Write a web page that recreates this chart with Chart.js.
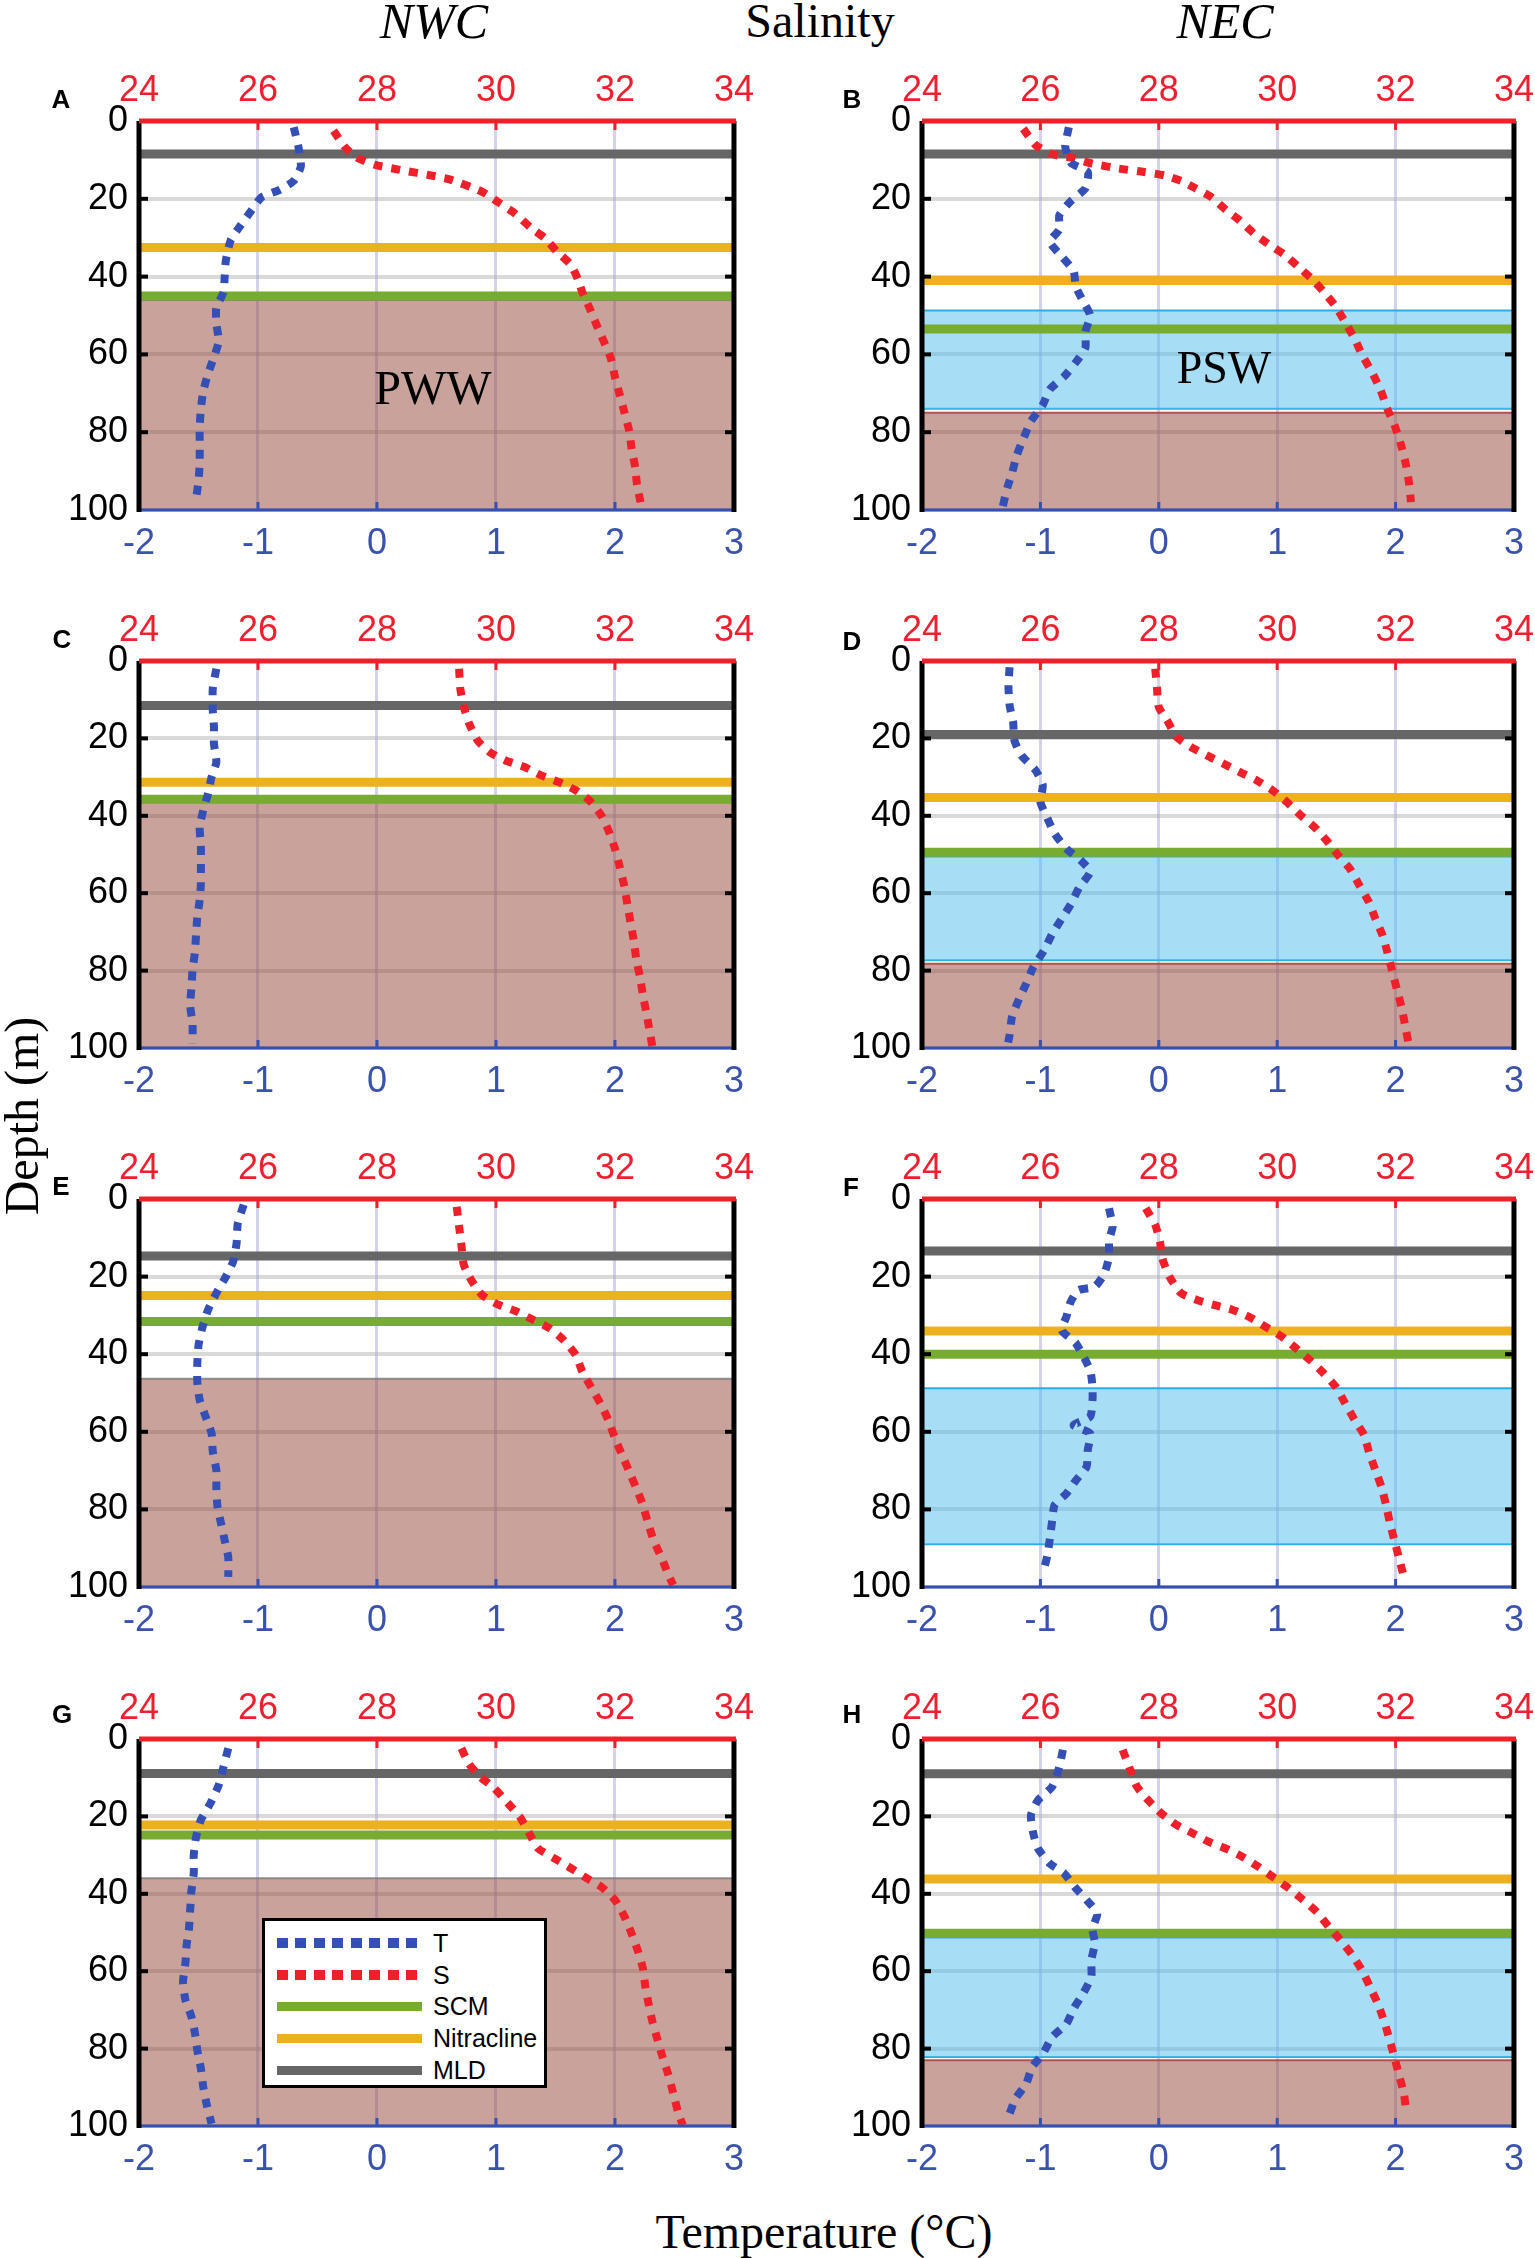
<!DOCTYPE html>
<html>
<head>
<meta charset="utf-8">
<script src="https://cdn.jsdelivr.net/npm/chart.js@4.4.1/dist/chart.umd.min.js"></script>
<style>
  html, body { margin:0; padding:0; background:#fff; }
  body { width:1535px; height:2258px; position:relative; overflow:hidden; }
  canvas { position:absolute; }
  .t { position:absolute; transform:translate(-50%,-50%); white-space:nowrap; line-height:1; color:#000; }
  .serif { font-family:"Liberation Serif","DejaVu Serif",serif; }
  .letter { font-family:"Liberation Sans",Arial,sans-serif; font-weight:bold; font-size:26px; }
  #legend { position:absolute; left:262px; top:1918px; width:279px; height:164px; border:3px solid #000; background:#fff; }
  .lg-row { position:absolute; left:0; width:100%; height:0; }
  .lg-sample { position:absolute; left:12px; width:145px; }
  .lg-text { position:absolute; left:168px; transform:translateY(-50%); font-family:"Liberation Sans",Arial,sans-serif; font-size:25px; line-height:1; }
</style>
</head>
<body>

<script>
// ---------------- DATA ----------------
const DEPTH_TICKS = [0, 20, 40, 60, 80, 100];
const TEMP_TICKS = [-2, -1, 0, 1, 2, 3];
const SAL_TICKS = [24, 26, 28, 30, 32, 34];
const PANEL_LETTERS = ['A','B','C','D','E','F','G','H'];

// MLD, nitracline, SCM depths per panel A..H (m)
const MLD = [8.5, 8.5, 11.5, 19, 14.7, 13.4, 8.9, 9];
const NITRACLINE = [32.5, 41, 31.3, 35.3, 24.9, 34, 22.2, 36.2];
const SCM = [45, 53.5, 35.7, 49.4, 31.6, 40, 24.8, 50.2];
// Water-mass layers (top, bottom) per panel; null = absent
const PWW_TOP = [46, 75, 36.5, 78.2, 46.3, null, 36, 83];
const PWW_BOTTOM = [100, 100, 100, 100, 100, null, 100, 100];
const PSW_TOP = [null, 48.7, null, 50.5, null, 48.8, null, 51.3];
const PSW_BOTTOM = [null, 74, null, 77.3, null, 89, null, 82.2];

// Temperature profiles
const A_T_DEPTH = [1.6,6.7,11.7,15.4,17.7,19.6,22.8,27,30.7,35.8,40,44,48,52,56.6,60.7,65,69.5,74,78.7,83.4,88,92.6,97];
const A_T = [-0.70,-0.66,-0.64,-0.70,-0.82,-0.97,-1.05,-1.15,-1.23,-1.27,-1.28,-1.29,-1.35,-1.35,-1.33,-1.37,-1.42,-1.46,-1.48,-1.49,-1.49,-1.49,-1.50,-1.52];
const B_T_DEPTH = [1.6,6.6,10.8,13.1,17.3,20.5,24.2,27.9,31,34.8,38.5,42.6,46.3,50,54.2,58.3,62,65.7,69,73,77.2,81.4,86,90.6,94.3,99.4];
const B_T = [-0.76,-0.79,-0.74,-0.60,-0.62,-0.74,-0.84,-0.84,-0.92,-0.82,-0.72,-0.70,-0.64,-0.58,-0.62,-0.62,-0.70,-0.80,-0.92,-0.98,-1.08,-1.14,-1.20,-1.24,-1.28,-1.32];
const C_T_DEPTH = [2,7.1,12.7,17,21.4,26.1,30,34.3,38.6,42.9,47.6,52.4,57.5,61.8,66.1,70.5,75.2,79.9,84.7,89,93.7,98.9];
const C_T = [-1.35,-1.38,-1.38,-1.37,-1.37,-1.35,-1.39,-1.42,-1.46,-1.49,-1.48,-1.48,-1.48,-1.49,-1.51,-1.52,-1.53,-1.55,-1.56,-1.57,-1.55,-1.55];
const D_T_DEPTH = [1.6,6.3,11.5,15.8,20.5,24.4,28.3,32.1,36.4,40.7,44.6,48.5,51.5,54.5,58.4,62.7,66.6,70.5,74.8,79.1,83.4,87.3,92,96.7,99.7];
const D_T = [-1.26,-1.27,-1.26,-1.23,-1.22,-1.16,-1.04,-0.98,-1.0,-0.94,-0.88,-0.78,-0.66,-0.58,-0.67,-0.74,-0.82,-0.90,-0.97,-1.06,-1.12,-1.18,-1.24,-1.26,-1.28];
const E_T_DEPTH = [1.5,6.3,11.4,16.2,20,24.3,28.6,33.4,37.7,42.4,47.1,51.8,56.1,60.4,65.1,69.9,74.6,79.4,83.7,88,92.3,97.4];
const E_T = [-1.12,-1.17,-1.18,-1.21,-1.27,-1.35,-1.42,-1.47,-1.50,-1.51,-1.51,-1.49,-1.44,-1.39,-1.38,-1.35,-1.35,-1.34,-1.31,-1.28,-1.25,-1.25];
const F_T_DEPTH = [2.4,7.1,10.6,14.9,19.2,22.6,23.5,26.9,30.3,33.8,37.2,44.1,48.4,51.8,56.1,58.3,60.4,64.7,69,72.5,75.9,78.9,82.8,87.5,91.8,96.6];
const F_T = [-0.42,-0.39,-0.42,-0.42,-0.46,-0.54,-0.68,-0.75,-0.78,-0.82,-0.70,-0.58,-0.56,-0.56,-0.58,-0.72,-0.58,-0.60,-0.61,-0.70,-0.78,-0.88,-0.90,-0.92,-0.94,-0.98];
const G_T_DEPTH = [2.4,7.2,11.9,16.6,20.9,25.3,30,34.7,39.4,44.2,48.9,53.3,57.9,62.7,67.4,71.7,76,80.4,85.1,89.9,94.6,99.4];
const G_T = [-1.25,-1.29,-1.33,-1.40,-1.48,-1.52,-1.54,-1.54,-1.56,-1.57,-1.58,-1.60,-1.61,-1.63,-1.61,-1.56,-1.53,-1.51,-1.48,-1.46,-1.43,-1.39];
const H_T_DEPTH = [2.8,7.2,12.3,15.8,19.7,24.4,28.3,32.2,34.7,38.6,41.6,45.1,49,52.8,57.2,61.5,65.8,69.7,73.6,77,81.4,84.8,89.1,92.9,96.8];
const H_T = [-0.81,-0.84,-0.90,-1.02,-1.08,-1.06,-1.02,-0.92,-0.80,-0.70,-0.61,-0.52,-0.56,-0.54,-0.57,-0.57,-0.64,-0.72,-0.78,-0.90,-0.98,-1.07,-1.12,-1.21,-1.26];

// Salinity profiles
const A_S_DEPTH = [2.5,6.7,9.4,11.3,12.7,14,15,18.2,21,23.8,27.5,30.2,33.5,37,40.8,44,48,52.4,56.6,61,65.8,70.4,75,79.7,84.3,89,93.5,98];
const A_S = [27.27,27.46,27.66,27.97,28.44,28.91,29.22,29.77,30.05,30.32,30.59,30.83,31.02,31.26,31.38,31.45,31.57,31.69,31.81,31.93,32.0,32.08,32.16,32.24,32.28,32.34,32.37,32.43];
const B_S_DEPTH = [2,6.2,8.5,9.4,10.8,12.2,13.1,14,15.4,17.3,19.6,22.8,25.6,28.8,31.5,34.3,37.5,40.8,44,47.7,51.8,56,60,64.3,68.9,74,78.1,83.7,88.7,93.4,98];
const B_S = [25.71,25.92,26.2,26.52,26.83,27.31,27.75,28.1,28.38,28.62,28.89,29.13,29.37,29.6,29.84,30.12,30.36,30.6,30.79,30.99,31.15,31.31,31.43,31.59,31.74,31.86,31.98,32.1,32.18,32.23,32.26];
const C_S_DEPTH = [2,7.1,11.9,16.2,20.5,23.5,25.7,27.4,29.5,31.3,33.4,36,39.9,43.8,48.5,53.2,58.4,63.1,67.4,72.6,77.3,81.6,86.4,91.1,96.3,99.7];
const C_S = [29.38,29.40,29.46,29.55,29.69,29.89,30.16,30.48,30.75,31.06,31.34,31.57,31.77,31.89,32.0,32.08,32.16,32.21,32.26,32.32,32.36,32.42,32.47,32.53,32.59,32.63];
const D_S_DEPTH = [2,7.1,11.9,15.3,19.6,22.2,24.4,26.5,28.7,30.8,33.4,36.4,39.9,42.9,46.3,50.2,53.7,58,62.3,66.6,70.9,75.2,79.9,84.7,89.4,94.1,98.9];
const D_S = [27.94,27.97,28.0,28.14,28.3,28.54,28.81,29.09,29.37,29.65,29.92,30.16,30.40,30.63,30.83,31.03,31.23,31.39,31.55,31.66,31.78,31.86,31.94,32.02,32.10,32.16,32.22];
const E_S_DEPTH = [2,7.1,11.9,17,21.3,24.8,27.3,29.1,31.2,33.4,36.4,40.2,44.5,48.8,53.1,57.4,61.7,66,70.3,74.6,78.5,83.2,88,92.7,97,99.5];
const E_S = [29.34,29.38,29.42,29.46,29.60,29.77,30.05,30.36,30.63,30.91,31.14,31.34,31.45,31.61,31.77,31.90,32.0,32.12,32.24,32.36,32.46,32.55,32.65,32.79,32.90,32.98];
const F_S_DEPTH = [2.4,6.7,11,15.3,20,24.3,26.1,27.3,28.6,30.4,32.9,35.5,38.5,41.6,45,48.4,52.7,57,60.9,65.2,69.9,74.2,78.9,83.2,88,92.7,97.4];
const F_S = [27.78,27.94,28.02,28.06,28.18,28.38,28.66,28.93,29.25,29.53,29.80,30.08,30.32,30.56,30.79,30.99,31.15,31.31,31.47,31.55,31.66,31.76,31.84,31.90,31.98,32.06,32.14];
const G_S_DEPTH = [2.4,6.3,9.7,12.7,16.6,20.1,24.4,28.3,30.9,33.4,36,38.2,41.6,45.9,50.3,55,59.3,64,68.8,73.1,77.4,81.7,86.9,91.6,96.4,99.8];
const G_S = [29.42,29.54,29.73,29.97,30.20,30.40,30.56,30.71,30.99,31.26,31.53,31.77,32.0,32.16,32.28,32.39,32.47,32.51,32.57,32.63,32.71,32.79,32.90,32.98,33.06,33.14];
const H_S_DEPTH = [2.8,7.6,12.3,15.8,19.2,22.2,24.4,26.6,28.3,30.4,33,36,38.6,41.6,44.7,48.5,52,55.9,59.7,64.1,68.4,73.1,77.8,82.2,86.9,91.6,96.4];
const H_S = [27.39,27.51,27.63,27.82,28.04,28.30,28.58,28.85,29.13,29.41,29.68,29.96,30.20,30.44,30.67,30.87,31.07,31.27,31.43,31.57,31.70,31.81,31.90,31.98,32.06,32.14,32.18];

const T_PROFILES = [[A_T,A_T_DEPTH],[B_T,B_T_DEPTH],[C_T,C_T_DEPTH],[D_T,D_T_DEPTH],[E_T,E_T_DEPTH],[F_T,F_T_DEPTH],[G_T,G_T_DEPTH],[H_T,H_T_DEPTH]];
const S_PROFILES = [[A_S,A_S_DEPTH],[B_S,B_S_DEPTH],[C_S,C_S_DEPTH],[D_S,D_S_DEPTH],[E_S,E_S_DEPTH],[F_S,F_S_DEPTH],[G_S,G_S_DEPTH],[H_S,H_S_DEPTH]];

// ---------------- STYLE / LAYOUT ----------------
const COL_L = [139, 922], COL_R = [734, 1514];
const ROW_T = [121, 661, 1199, 1739], ROW_B = [510, 1048, 1587, 2126];
const PAD_L = 100, PAD_T = 62, PAD_R = 28, PAD_B = 58;
const SANS = '"Liberation Sans", Arial, sans-serif';
const C_T_LINE = '#3450B6', C_S_LINE = '#F0202B';
const C_T_TXT = '#3A52AE', C_S_TXT = '#EE2030';
const C_MLD = '#666666', C_NIT = '#EDB120', C_SCM = '#77AC30';

const framePlugin = {
  id: 'frame',
  afterDraw(chart) {
    const {ctx, chartArea: a, scales} = chart;
    const seg = (x1,y1,x2,y2) => { ctx.beginPath(); ctx.moveTo(x1,y1); ctx.lineTo(x2,y2); ctx.stroke(); };
    ctx.save();
    ctx.lineCap = 'butt';
    ctx.lineWidth = 4;
    ctx.strokeStyle = '#000';
    DEPTH_TICKS.slice(1,-1).forEach(v => {
      const py = scales.y.getPixelForValue(v);
      seg(a.left, py, a.left + 9, py); seg(a.right - 9, py, a.right, py);
    });
    ctx.lineWidth = 3;
    ctx.strokeStyle = C_S_LINE;
    SAL_TICKS.slice(1,-1).forEach(v => { const px = scales.x2.getPixelForValue(v); seg(px, a.top, px, a.top + 9); });
    ctx.strokeStyle = C_T_LINE;
    TEMP_TICKS.slice(1,-1).forEach(v => { const px = scales.x.getPixelForValue(v); seg(px, a.bottom, px, a.bottom - 8); });
    // frame
    ctx.lineWidth = 3; ctx.strokeStyle = C_T_LINE; seg(a.left, a.bottom, a.right, a.bottom);
    ctx.lineWidth = 5; ctx.strokeStyle = '#000';
    seg(a.left, a.top, a.left, a.bottom + 2); seg(a.right, a.top, a.right, a.bottom + 2);
    ctx.strokeStyle = C_S_LINE; seg(a.left, a.top, a.right + 2, a.top);
    ctx.restore();
  }
};

function hLine(depth, color) {
  return { data: [{x: TEMP_TICKS[0], y: depth}, {x: TEMP_TICKS[TEMP_TICKS.length-1], y: depth}],
           xAxisID: 'x', borderColor: color, borderWidth: 9, pointRadius: 0, fill: false, tension: 0 };
}
function band(top, bottom, fillColor, edgeColor) {
  const t = hLine(top, edgeColor); t.borderWidth = 2; t.fill = '+1'; t.backgroundColor = fillColor;
  const b = hLine(bottom, edgeColor); b.borderWidth = 2;
  return [t, b];
}

function makePanel(i) {
  const col = i % 2, row = Math.floor(i / 2);
  const L = COL_L[col], R = COL_R[col], T = ROW_T[row], B = ROW_B[row];
  const cv = document.createElement('canvas');
  const W = (R - L) + PAD_L + PAD_R, H = (B - T) + PAD_T + PAD_B;
  cv.width = W; cv.height = H;
  cv.style.left = (L - PAD_L) + 'px'; cv.style.top = (T - PAD_T) + 'px';
  cv.style.width = W + 'px'; cv.style.height = H + 'px';
  document.body.appendChild(cv);

  const [tv, td] = T_PROFILES[i];
  const [sv, sd] = S_PROFILES[i];
  const datasets = [
    { data: tv.map((v,k) => ({x: v, y: td[k]})), xAxisID: 'x', borderColor: C_T_LINE, borderWidth: 8,
      borderDash: [9, 9], pointRadius: 0, fill: false, tension: 0.2 },
    { data: sv.map((v,k) => ({x: v, y: sd[k]})), xAxisID: 'x2', borderColor: C_S_LINE, borderWidth: 8,
      borderDash: [9, 9], pointRadius: 0, fill: false, tension: 0.2 },
    hLine(MLD[i], C_MLD),
    hLine(NITRACLINE[i], C_NIT),
    hLine(SCM[i], C_SCM)
  ];
  if (PSW_TOP[i] !== null) datasets.push(...band(PSW_TOP[i], PSW_BOTTOM[i], 'rgba(81,189,235,0.5)', 'rgba(40,175,230,1)'));
  if (PWW_TOP[i] !== null) datasets.push(...band(PWW_TOP[i], PWW_BOTTOM[i], 'rgba(147,71,55,0.5)',
      col === 0 ? 'rgba(120,120,120,0.8)' : 'rgba(165,75,55,0.9)'));

  const tickFont = { family: SANS, size: 36 };
  new Chart(cv, {
    type: 'line',
    data: { datasets },
    plugins: [framePlugin],
    options: {
      responsive: false, animation: false, devicePixelRatio: 1,
      layout: { padding: { left: 0, right: PAD_R, top: 0, bottom: 0 } },
      plugins: { legend: { display: false }, tooltip: { enabled: false } },
      scales: {
        x: { type: 'linear', position: 'bottom', min: TEMP_TICKS[0], max: TEMP_TICKS[TEMP_TICKS.length-1],
             afterBuildTicks: s => { s.ticks = TEMP_TICKS.map(v => ({value: v})); },
             afterFit: s => { s.height = PAD_B; },
             ticks: { color: C_T_TXT, font: tickFont, padding: 12, autoSkip: false, maxRotation: 0 },
             grid: { color: 'rgba(110,110,200,0.3)', lineWidth: 3, drawTicks: false },
             border: { display: false } },
        x2: { type: 'linear', position: 'top', min: SAL_TICKS[0], max: SAL_TICKS[SAL_TICKS.length-1],
             afterBuildTicks: s => { s.ticks = SAL_TICKS.map(v => ({value: v})); },
             afterFit: s => { s.height = PAD_T; },
             ticks: { color: C_S_TXT, font: tickFont, padding: 8, autoSkip: false, maxRotation: 0 },
             grid: { display: false, drawTicks: false },
             border: { display: false } },
        y: { type: 'linear', position: 'left', reverse: true, min: DEPTH_TICKS[0], max: DEPTH_TICKS[DEPTH_TICKS.length-1],
             afterBuildTicks: s => { s.ticks = DEPTH_TICKS.map(v => ({value: v})); },
             afterFit: s => { s.width = PAD_L; },
             ticks: { color: '#000', font: tickFont, padding: 11, autoSkip: false },
             grid: { color: 'rgba(170,170,170,0.45)', lineWidth: 4, drawTicks: false },
             border: { display: false } }
      }
    }
  });
}
for (let i = 0; i < 8; i++) makePanel(i);
</script>

<!-- Titles -->
<div class="t serif" style="left:434px; top:21px; font-size:50px; font-style:italic;">NWC</div>
<div class="t serif" style="left:820px; top:21px; font-size:48px;">Salinity</div>
<div class="t serif" style="left:1225px; top:21px; font-size:50px; font-style:italic;">NEC</div>
<div class="t serif" style="left:824px; top:2232px; font-size:48px;">Temperature (°C)</div>
<div class="t serif" style="left:22px; top:1116px; font-size:48px; transform:translate(-50%,-50%) rotate(-90deg);">Depth (m)</div>

<!-- Panel letters -->
<div class="t letter" style="left:61px; top:99px;">A</div>
<div class="t letter" style="left:852px; top:99px;">B</div>
<div class="t letter" style="left:62px; top:639px;">C</div>
<div class="t letter" style="left:852px; top:641px;">D</div>
<div class="t letter" style="left:61px; top:1186px;">E</div>
<div class="t letter" style="left:851px; top:1187px;">F</div>
<div class="t letter" style="left:62px; top:1714px;">G</div>
<div class="t letter" style="left:852px; top:1714px;">H</div>

<!-- Water mass labels -->
<div class="t serif" style="left:433px; top:388px; font-size:48px;">PWW</div>
<div class="t serif" style="left:1224px; top:368px; font-size:46px;">PSW</div>

<!-- Legend -->
<div id="legend">
  <div class="lg-row" style="top:22px;">
    <div class="lg-sample" style="top:-5px; height:10px; background:repeating-linear-gradient(to right,#3450B6 0 11px,transparent 11px 18.5px);"></div>
    <div class="lg-text">T</div>
  </div>
  <div class="lg-row" style="top:54px;">
    <div class="lg-sample" style="top:-5px; height:10px; background:repeating-linear-gradient(to right,#F0202B 0 11px,transparent 11px 18.5px);"></div>
    <div class="lg-text">S</div>
  </div>
  <div class="lg-row" style="top:85px;">
    <div class="lg-sample" style="top:-4.5px; height:9px; background:#77AC30;"></div>
    <div class="lg-text">SCM</div>
  </div>
  <div class="lg-row" style="top:117px;">
    <div class="lg-sample" style="top:-4.5px; height:9px; background:#EDB120;"></div>
    <div class="lg-text">Nitracline</div>
  </div>
  <div class="lg-row" style="top:149px;">
    <div class="lg-sample" style="top:-4.5px; height:9px; background:#666666;"></div>
    <div class="lg-text">MLD</div>
  </div>
</div>
</body>
</html>
